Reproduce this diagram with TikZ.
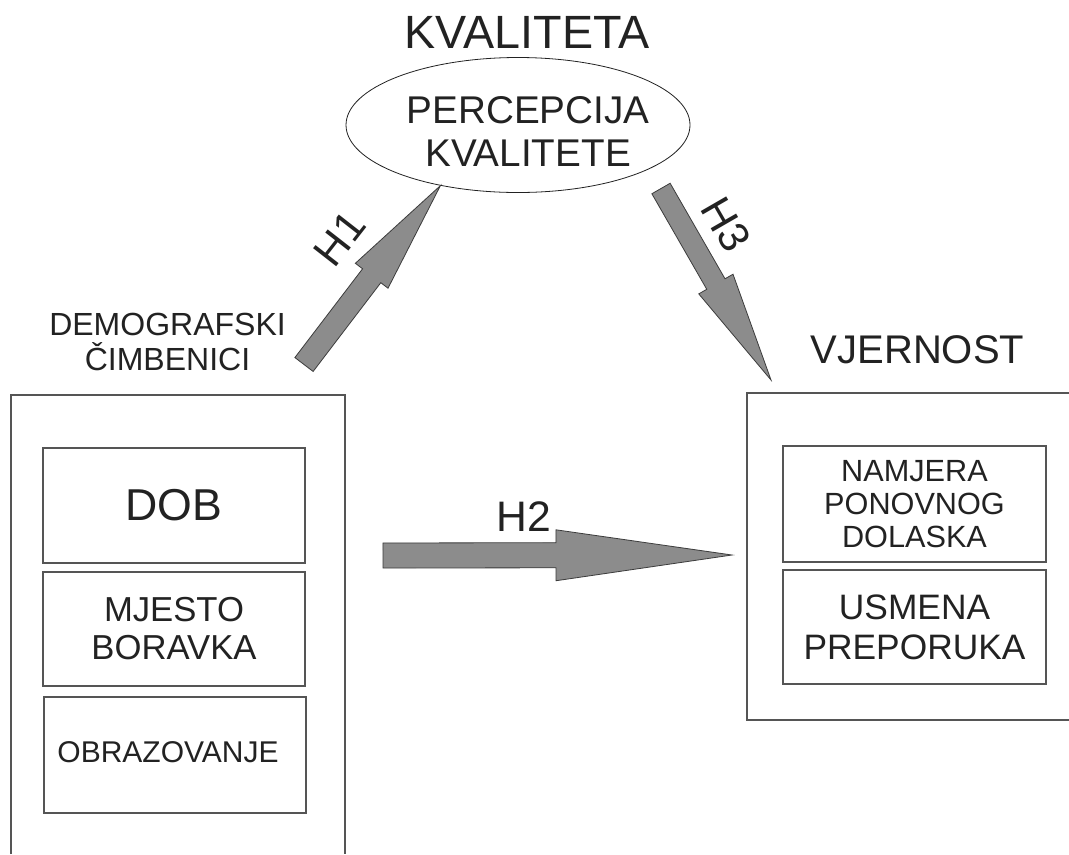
\documentclass[tikz,border=0pt]{standalone}
\usepackage{fontspec}
\setmainfont{Liberation Sans}
\usetikzlibrary{shapes.geometric,calc}
\definecolor{txt}{HTML}{222222}
\definecolor{boxline}{HTML}{555555}
\definecolor{arrfill}{HTML}{8C8C8C}
\definecolor{arrline}{HTML}{3C3C3C}
\newcommand\fsz[2]{\fontsize{#1}{#2}\selectfont}
\newcommand\blockarrow[5]{%
  \coordinate (ba-h) at ($(#2)!#5!(#1)$);
  \draw[blockarr] ($(#1)!#3!90:(#2)$) -- ($(ba-h)!#3!90:(#2)$) -- ($(ba-h)!#4!90:(#2)$) -- (#2)
    -- ($(ba-h)!#4!-90:(#2)$) -- ($(ba-h)!#3!-90:(#2)$) -- ($(#1)!#3!-90:(#2)$) -- cycle;}
\tikzset{
  lbl/.style={text=txt, inner sep=0pt, align=center},
  inbox/.style={draw=boxline, line width=0.9pt, text=txt, align=center, inner sep=0pt},
  blockarr/.style={fill=arrfill, draw=arrline, line width=0.6pt, line join=miter},
  frame/.style={draw=boxline, line width=0.9pt},
  oval/.style={ellipse, draw=txt, line width=0.6pt, inner sep=0pt}
}
\begin{document}
\begin{tikzpicture}[x=0.75pt, y=-0.75pt]
\useasboundingbox (0,0) rectangle (1069,854);
\fill[white] (0,0) rectangle (1069,854);

% top: quality
\node[lbl, font=\fsz{35}{38}] (kval) at (527,32.5) {KVALITETA};
\node[oval, minimum width=258pt, minimum height=101.25pt] (perc) at (518,125) {};
\node[lbl, font=\fsz{29}{32.25}] (perctext) at (528,131) {PERCEPCIJA\\KVALITETE};

% left: demographic factors
\node[lbl, font=\fsz{24}{26.25}] (demo) at (167.5,342) {DEMOGRAFSKI\\ČIMBENICI};
\draw[frame] (11,854) -- (11,395) -- (345,395) -- (345,854);
\node[inbox, minimum width=196.5pt, minimum height=86.25pt, font=\fsz{33.5}{36}] (dob) at (174,505.5) {DOB};
\node[inbox, minimum width=196.5pt, minimum height=85.5pt, font=\fsz{26}{28.5}] (mjesto) at (174,629) {MJESTO\\BORAVKA};
\node[inbox, minimum width=196.5pt, minimum height=87pt] (obrbox) at (175,755) {};
\node[lbl, font=\fsz{22.5}{25}] (obr) at (168,752.5) {OBRAZOVANJE};

% right: loyalty
\node[lbl, font=\fsz{30}{33}] (vjer) at (917.5,350) {VJERNOST};
\draw[frame] (1069,393) -- (747,393) -- (747,720) -- (1069,720);
\node[inbox, minimum width=197.25pt, minimum height=87pt, font=\fsz{23}{25}] (namj) at (914.5,504) {NAMJERA\\PONOVNOG\\DOLASKA};
\node[inbox, minimum width=197.25pt, minimum height=85.5pt, font=\fsz{26.5}{30}] (usm) at (914.5,627) {USMENA\\PREPORUKA};

% arrows
\coordinate (h1tail) at (304,364.5);
\coordinate (h1tip) at (perc.218.7);
\blockarrow{h1tail}{h1tip}{8.6pt}{15.4pt}{85pt}
\node[lbl, rotate=52, font=\fsz{32}{34}] (h1) at (339.5,238.5) {H1};

\coordinate (h2tail) at (383,555.5);
\coordinate (h2tip) at (732,555);
\blockarrow{h2tail}{h2tip}{9.4pt}{19.1pt}{132pt}
\node[lbl, font=\fsz{32}{34}] (h2) at (523.5,517) {H2};

\coordinate (h3tail) at (661,188.5);
\coordinate (h3tip) at (771,380);
\blockarrow{h3tail}{h3tip}{7.9pt}{14.8pt}{83pt}
\node[lbl, rotate=-60, font=\fsz{32}{34}] (h3) at (726,224.5) {H3};
\end{tikzpicture}
\end{document}
